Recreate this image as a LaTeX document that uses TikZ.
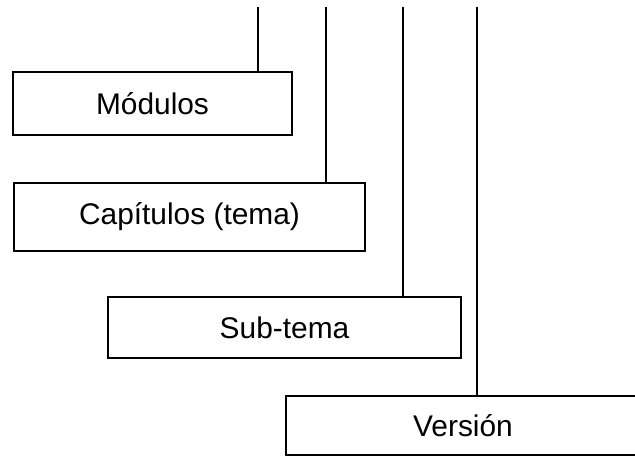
\documentclass[tikz,border=0pt]{standalone}
\usepackage{fontspec}
\setmainfont{Liberation Sans}

\begin{document}
\begin{tikzpicture}[line width=1.1pt,
    box/.style={draw, rectangle, inner sep=0pt, font=\fontsize{17}{20}\selectfont}]
            \useasboundingbox (0,0) rectangle (12.7,9.12);
            \clip (0,0) rectangle (12.7,9.12);
            \node[box, minimum width=5.58cm, minimum height=1.26cm] (modulos) at (3.05,7.05) {Módulos};
            \node[box, minimum width=7.02cm, minimum height=1.36cm] (capitulos) at (3.79,4.78) {Capítulos (tema)};
            \node[box, minimum width=7.06cm, minimum height=1.22cm] (subtema) at (5.69,2.57) {Sub-tema};
            \node[box, minimum width=7.08cm, minimum height=1.18cm] (version) at (9.26,0.61) {Versión};
            \coordinate (top1) at (5.16,8.98);
            \coordinate (top2) at (6.52,8.98);
            \coordinate (top3) at (8.06,8.98);
            \coordinate (top4) at (9.54,8.98);
            \draw (top1) -- (top1 |- modulos.north);
            \draw (top2) -- (top2 |- capitulos.north);
            \draw (top3) -- (top3 |- subtema.north);
            \draw (top4) -- (top4 |- version.north);
        \end{tikzpicture}
\end{document}
